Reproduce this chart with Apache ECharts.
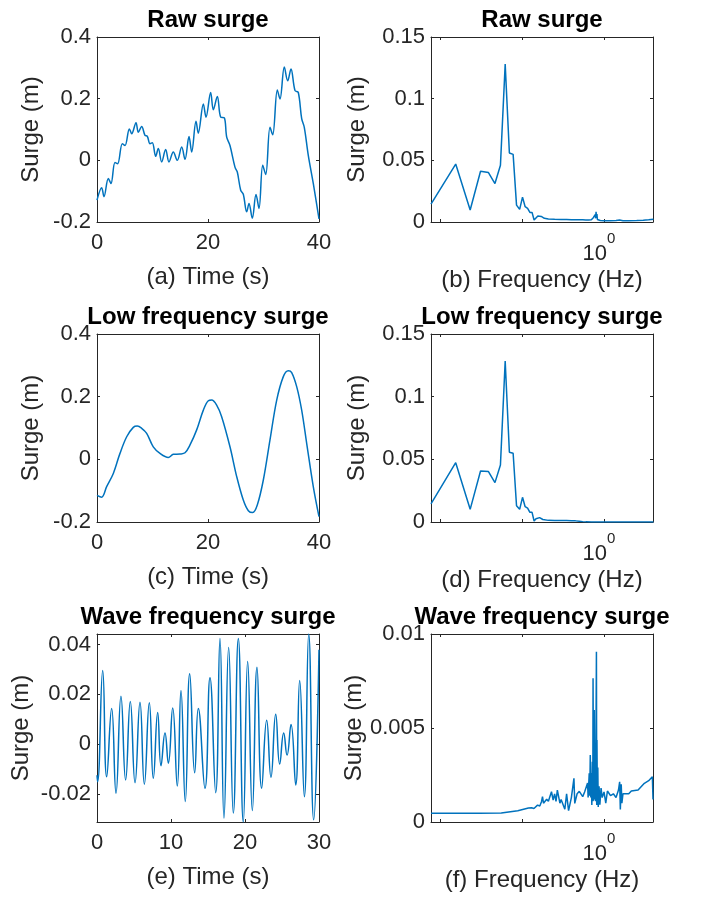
<!DOCTYPE html>
<html><head><meta charset="utf-8">
<script src="https://cdn.jsdelivr.net/npm/echarts@6/dist/echarts.min.js"></script>
<style>html,body{margin:0;padding:0;background:#fff}#c{width:703px;height:898px}</style>
</head><body><div id="c"></div>
<script>
// ---------- data ----------
const titles = ['Raw surge', 'Raw surge', 'Low frequency surge', 'Low frequency surge', 'Wave frequency surge', 'Wave frequency surge'];
const xNames = ['(a) Time (s)', '(b) Frequency (Hz)', '(c) Time (s)', '(d) Frequency (Hz)', '(e) Time (s)', '(f) Frequency (Hz)'];
const yName = 'Surge (m)';

const timeTicks40 = [0, 20, 40];
const timeTicks30 = [0, 10, 20, 30];
const surgeTicks = [-0.2, 0, 0.2, 0.4];
const specTicks = [0, 0.05, 0.1, 0.15];
const waveTicks = [-0.02, 0, 0.02, 0.04];
const waveSpecTicks = [0, 0.005, 0.01];
const freqTicks = [0.01, 0.1, 1];

const rawTime = [0, 0.84, 1.26, 2.04, 2.52, 3.24, 3.72, 4.56, 5.05, 5.83, 6.25, 7.03, 7.45, 8.05, 8.65, 9.07, 9.55, 9.97, 10.57, 11.05, 11.65, 12.37, 12.97, 13.75, 14.47, 15.26, 15.86, 16.58, 17.06, 17.84, 18.25, 19.16, 19.64, 20.48, 20.96, 21.68, 22.29, 22.94, 23.37, 23.96, 24.86, 25.28, 25.89, 26.36, 26.97, 27.39, 27.98, 28.65, 29.19, 29.86, 30.40, 31.17, 31.66, 32.49, 32.97, 33.75, 34.36, 34.95, 35.68, 36.27, 36.88, 37.35, 38.07, 38.97, 40];
const rawSurge = [-0.129, -0.089, -0.118, -0.059, -0.075, -0.007, -0.011, 0.054, 0.048, 0.102, 0.086, 0.122, 0.091, 0.110, 0.081, 0.078, 0.054, 0.057, 0.013, 0.038, -0.005, 0.035, -0.005, 0.027, 0.000, 0.043, 0.003, 0.077, 0.027, 0.127, 0.088, 0.183, 0.140, 0.220, 0.164, 0.207, 0.140, 0.138, 0.075, 0.048, -0.022, -0.038, -0.097, -0.110, -0.167, -0.140, -0.188, -0.111, -0.156, -0.016, -0.046, 0.107, 0.083, 0.228, 0.199, 0.303, 0.258, 0.296, 0.226, 0.220, 0.135, 0.107, 0.016, -0.075, -0.19];

const lowTime = [0, 0.84, 1.74, 2.94, 4.14, 5.35, 6.54, 7.26, 8.05, 8.95, 10.14, 11.35, 12.85, 13.75, 14.95, 15.86, 16.76, 17.96, 19.16, 20.06, 20.66, 21.56, 22.46, 23.96, 25.17, 26.36, 27.27, 28.06, 28.88, 29.97, 31.17, 32.38, 33.57, 34.47, 35.08, 35.98, 36.88, 37.78, 38.97, 40];
const lowSurge = [-0.115, -0.121, -0.087, -0.045, 0.019, 0.072, 0.102, 0.106, 0.099, 0.083, 0.040, 0.019, 0.006, 0.016, 0.017, 0.021, 0.046, 0.094, 0.157, 0.187, 0.189, 0.173, 0.136, 0.040, -0.055, -0.130, -0.164, -0.170, -0.146, -0.066, 0.062, 0.189, 0.264, 0.283, 0.277, 0.232, 0.157, 0.051, -0.087, -0.183];

const waveTime = [0, 0.08, 0.77, 1.31, 1.98, 2.57, 3.24, 3.87, 4.50, 5.14, 5.81, 6.40, 7.07, 7.61, 8.20, 8.65, 9.19, 9.64, 10.23, 10.85, 11.35, 11.93, 12.53, 13.20, 13.69, 14.59, 15.27, 16.04, 16.62, 17.16, 17.79, 18.42, 19.10, 19.77, 20.36, 20.99, 21.62, 22.25, 22.93, 23.51, 24.15, 24.69, 25.23, 25.68, 26.22, 26.85, 27.39, 28.02, 28.61, 29.28, 30];
const waveSurge = [-0.0125, -0.0151, 0.0296, -0.0131, 0.0143, -0.0197, 0.0193, -0.0144, 0.0172, -0.0155, 0.0169, -0.0161, 0.0167, -0.0137, 0.0127, -0.0087, 0.0045, -0.0077, 0.0145, -0.0168, 0.0216, -0.0231, 0.0283, -0.0115, 0.0143, -0.0177, 0.0267, -0.0195, 0.0425, -0.0297, 0.0389, -0.0277, 0.0425, -0.0313, 0.0332, -0.0267, 0.0309, -0.0177, 0.0096, -0.0133, 0.0120, -0.0080, 0.0045, -0.0044, 0.0079, -0.0164, 0.0256, -0.0211, 0.0443, -0.0304, 0.038];

const rawFreq = [0.0078, 0.0156, 0.0234, 0.0313, 0.0391, 0.0469, 0.0547, 0.0625, 0.0703, 0.0781, 0.0859, 0.0938, 0.1016, 0.1094, 0.1172, 0.125, 0.1328, 0.1406, 0.1484, 0.1563, 0.1641, 0.1719, 0.1797, 0.1875, 0.1953, 0.21, 0.25, 0.3, 0.35, 0.4, 0.45, 0.5, 0.55, 0.6, 0.65, 0.7, 0.72, 0.74, 0.75, 0.76, 0.77, 0.78, 0.79, 0.80, 0.81, 0.82, 0.83, 0.84, 0.86, 0.9, 1.0, 1.2, 1.4, 1.55, 1.6, 1.7, 2.0, 2.5, 3.0, 3.5, 4.0];
const rawAmp = [0.0145, 0.047, 0.0097, 0.0411, 0.0401, 0.0312, 0.046, 0.128, 0.0559, 0.0548, 0.0137, 0.0102, 0.0202, 0.0124, 0.011, 0.0078, 0.0078, 0.0016, 0.003, 0.0048, 0.0048, 0.0045, 0.0035, 0.003, 0.0025, 0.0025, 0.0022, 0.0021, 0.002, 0.0019, 0.0019, 0.0018, 0.0018, 0.0017, 0.0017, 0.0018, 0.0022, 0.0035, 0.002, 0.0045, 0.0025, 0.006, 0.003, 0.0083, 0.0035, 0.0065, 0.002, 0.0035, 0.0015, 0.0012, 0.001, 0.0011, 0.0012, 0.0016, 0.0012, 0.0011, 0.0011, 0.0013, 0.0015, 0.0018, 0.0022];

const lowFreq = [0.0078, 0.0156, 0.0234, 0.0313, 0.0391, 0.0469, 0.0547, 0.0625, 0.0703, 0.0781, 0.0859, 0.0938, 0.1016, 0.1094, 0.1172, 0.125, 0.1328, 0.1406, 0.1484, 0.1563, 0.1641, 0.1719, 0.1797, 0.1875, 0.21, 0.25, 0.3, 0.35, 0.4, 0.45, 0.5, 0.55, 0.6, 0.7, 0.8, 1.0, 2.0, 4.0];
const lowAmp = [0.0144, 0.0473, 0.0101, 0.0407, 0.0402, 0.0314, 0.0455, 0.1285, 0.0556, 0.0548, 0.013, 0.0101, 0.0197, 0.0122, 0.011, 0.0077, 0.0077, 0.0008, 0.0026, 0.0037, 0.0035, 0.003, 0.002, 0.0015, 0.0013, 0.0012, 0.0012, 0.0011, 0.001, 0.0009, 0.0006, 0.0003, 0.0001, 0.00005, 0, 0, 0, 0];

const waveFreq = [0.0078, 0.03, 0.056, 0.089, 0.12, 0.131, 0.14, 0.155, 0.165, 0.173, 0.178, 0.183, 0.20, 0.21, 0.229, 0.24, 0.25, 0.26, 0.27, 0.29, 0.30, 0.333, 0.35, 0.37, 0.40, 0.43, 0.44, 0.47, 0.50, 0.55, 0.58, 0.63, 0.64, 0.66, 0.67, 0.68, 0.69, 0.70, 0.71, 0.72, 0.73, 0.735, 0.745, 0.76, 0.77, 0.78, 0.79, 0.808, 0.815, 0.82, 0.83, 0.84, 0.85, 0.87, 0.89, 0.92, 0.95, 1.0, 1.05, 1.1, 1.2, 1.3, 1.4, 1.5, 1.55, 1.58, 1.62, 1.65, 1.7, 2.0, 2.15, 2.6, 3.1, 3.5, 3.88, 3.95];
const waveAmp = [0.00046, 0.00046, 0.00048, 0.0006, 0.00075, 0.00076, 0.00072, 0.0009, 0.00085, 0.00108, 0.00135, 0.001, 0.00121, 0.0011, 0.00161, 0.00117, 0.0015, 0.0011, 0.0017, 0.001, 0.0012, 0.00068, 0.0015, 0.0006, 0.0013, 0.00232, 0.00099, 0.0015, 0.00163, 0.00135, 0.0016, 0.00207, 0.0013, 0.00259, 0.0014, 0.00356, 0.0013, 0.0026, 0.0009, 0.0032, 0.0011, 0.00764, 0.00113, 0.00596, 0.0012, 0.0038, 0.0011, 0.00906, 0.0009, 0.00436, 0.0010, 0.0029, 0.0008, 0.0019, 0.00092, 0.0018, 0.0013, 0.0016, 0.001, 0.00165, 0.0014, 0.0015, 0.0013, 0.0017, 0.00214, 0.00067, 0.002, 0.001, 0.0015, 0.0015, 0.00165, 0.0017, 0.00206, 0.0022, 0.00241, 0.0012];

// ---------- layout / style ----------
const FONT = '"Liberation Sans", Arial, Helvetica, sans-serif';
const AX = '#262626';
const LINE = '#0072BD';

const panels = [
  {grid:{left:97, top:37, width:222, height:185}, log:false, xMin:0, xMax:40, xTicks:timeTicks40, yMin:-0.2, yMax:0.4, yTicks:surgeTicks, x:rawTime, y:rawSurge, yGap:54, xGap:43, smooth:0.35},
  {grid:{left:431, top:37, width:222, height:185}, log:true, xMin:0.0078, xMax:3.95, xTicks:freqTicks, yMin:0, yMax:0.15, yTicks:specTicks, x:rawFreq, y:rawAmp, yGap:62, xGap:46, smooth:false},
  {grid:{left:97, top:334, width:222, height:188}, log:false, xMin:0, xMax:40, xTicks:timeTicks40, yMin:-0.2, yMax:0.4, yTicks:surgeTicks, x:lowTime, y:lowSurge, yGap:54, xGap:43, smooth:0.35},
  {grid:{left:431, top:334, width:222, height:188}, log:true, xMin:0.0078, xMax:3.95, xTicks:freqTicks, yMin:0, yMax:0.15, yTicks:specTicks, x:lowFreq, y:lowAmp, yGap:62, xGap:46, smooth:false},
  {grid:{left:97, top:634, width:222, height:188}, log:false, xMin:0, xMax:30, xTicks:timeTicks30, yMin:-0.0313, yMax:0.0443, yTicks:waveTicks, x:waveTime, y:waveSurge, yGap:64, xGap:43, smooth:0.5},
  {grid:{left:431, top:634, width:222, height:188}, log:true, xMin:0.0078, xMax:3.95, xTicks:freqTicks, yMin:0, yMax:0.01, yTicks:waveSpecTicks, x:waveFreq, y:waveAmp, yGap:62, xGap:46, smooth:false}
];

const grid = [], xAxis = [], yAxis = [], series = [];
const lineAx = {show:true, onZero:false, lineStyle:{color:AX, width:1}};
const tickAx = (vals) => ({show:true, inside:true, length:3, lineStyle:{color:AX, width:1}, customValues: vals});

panels.forEach((p, i) => {
  grid.push(Object.assign({containLabel:false}, p.grid));
  const labelBase = {fontFamily:FONT, fontSize:22, color:AX, margin:10, customValues:p.xTicks, showMinLabel:true, showMaxLabel:true};
  let xLabel;
  if (p.log) {
    xLabel = Object.assign({}, labelBase, {
      margin:9,
      formatter: v => Math.abs(v - 1) < 1e-9 ? '{b|10}{s|0}' : '',
      rich: {
        b: {fontFamily:FONT, fontSize:22, color:AX, verticalAlign:'bottom', lineHeight:34},
        s: {fontFamily:FONT, fontSize:15, color:AX, verticalAlign:'top', lineHeight:34, padding:[0,10,0,0]}
      }
    });
  } else {
    xLabel = labelBase;
  }
  const xType = p.log ? 'log' : 'value';
  xAxis.push({
    gridIndex:i, type:xType, position:'bottom', min:p.xMin, max:p.xMax,
    axisLine:lineAx, axisTick:tickAx(p.xTicks), axisLabel:xLabel, splitLine:{show:false},
    name:xNames[i], nameLocation:'middle', nameGap:p.xGap,
    nameTextStyle:{fontFamily:FONT, fontSize:24, color:AX}
  });
  xAxis.push({
    gridIndex:i, type:xType, position:'top', min:p.xMin, max:p.xMax,
    axisLine:lineAx, axisTick:tickAx(p.xTicks), axisLabel:{show:false}, splitLine:{show:false},
    name:titles[i], nameLocation:'middle', nameGap:5,
    nameTextStyle:{fontFamily:FONT, fontSize:24, fontWeight:'bold', color:'#000', verticalAlign:'bottom'}
  });
  yAxis.push({
    gridIndex:i, type:'value', position:'left', min:p.yMin, max:p.yMax,
    axisLine:lineAx, axisTick:tickAx(p.yTicks),
    axisLabel:{fontFamily:FONT, fontSize:22, color:AX, margin:6, customValues:p.yTicks},
    splitLine:{show:false},
    name:yName, nameLocation:'middle', nameGap:p.yGap,
    nameTextStyle:{fontFamily:FONT, fontSize:24, color:AX}
  });
  yAxis.push({
    gridIndex:i, type:'value', position:'right', min:p.yMin, max:p.yMax,
    axisLine:lineAx, axisTick:tickAx(p.yTicks), axisLabel:{show:false}, splitLine:{show:false}
  });
  series.push({
    type:'line', xAxisIndex:2*i, yAxisIndex:2*i, showSymbol:false, symbol:'none',
    smooth:p.smooth, clip:true,
    lineStyle:{color:LINE, width:1.5},
    data:p.x.map((xv, k) => [xv, p.y[k]])
  });
});

const chart = echarts.init(document.getElementById('c'), null, {renderer:'canvas'});
chart.setOption({animation:false, backgroundColor:'#fff', grid, xAxis, yAxis, series});
</script></body></html>
